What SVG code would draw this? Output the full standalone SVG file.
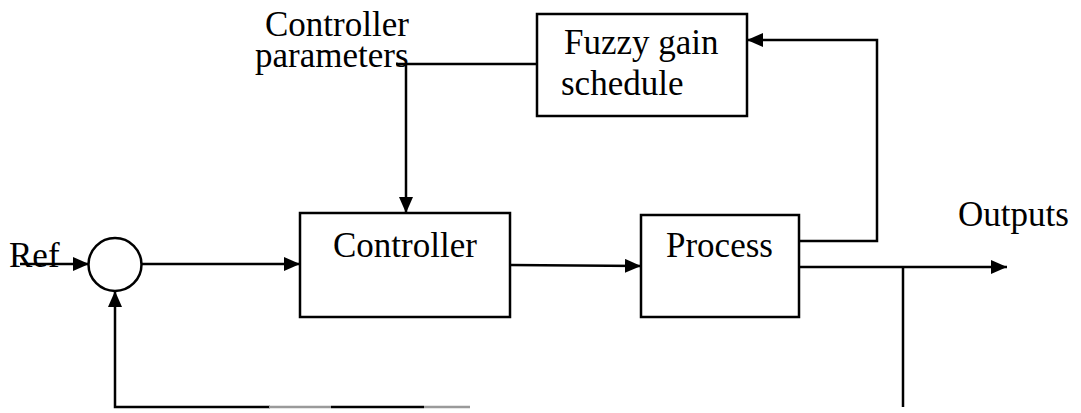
<svg xmlns="http://www.w3.org/2000/svg" width="1081" height="413" viewBox="0 0 1081 413">
  <style>
    .box { fill: #ffffff; stroke: #000000; stroke-width: 2.5; }
    .wire { fill: none; stroke: #000000; stroke-width: 2.5; }
    .faint { fill: none; stroke: #9a9a9a; stroke-width: 2.5; }
    .lbl { font-family: "Liberation Serif", "Times New Roman", serif; font-size: 35px; fill: #000000; }
  </style>
  <defs>
    <marker id="arrow" viewBox="0 0 16 14" refX="16" refY="7" markerWidth="16" markerHeight="14" markerUnits="userSpaceOnUse" orient="auto">
      <path d="M0,0 L16,7 L0,14 Z" fill="#000000"/>
    </marker>
  </defs>
  <rect width="1081" height="413" fill="#ffffff"/>

  <!-- connectors -->
  <g id="connectors">
    <!-- reference into summing junction -->
    <line class="wire" x1="20" y1="264" x2="89" y2="264" marker-end="url(#arrow)"/>
    <!-- error to controller -->
    <line class="wire" x1="141" y1="264" x2="300" y2="264" marker-end="url(#arrow)"/>
    <!-- controller to process -->
    <line class="wire" x1="510" y1="265" x2="641" y2="266" marker-end="url(#arrow)"/>
    <!-- process to outputs -->
    <line class="wire" x1="799" y1="267" x2="1007" y2="267" marker-end="url(#arrow)"/>
    <!-- process output to fuzzy gain schedule -->
    <polyline class="wire" points="799,241 877,241 877,40 747,40" marker-end="url(#arrow)"/>
    <!-- gain schedule to controller parameters -->
    <line class="wire" x1="396" y1="64" x2="537" y2="64"/>
    <polyline class="wire" points="406,64 406,213" marker-end="url(#arrow)"/>
    <!-- output tap for feedback -->
    <line class="wire" x1="903" y1="267" x2="903" y2="407"/>
    <!-- feedback path back into summing junction -->
    <polyline class="wire" points="270,407 115,407 115,291" marker-end="url(#arrow)"/>
    <line class="faint" x1="269" y1="407" x2="331" y2="407"/>
    <line class="wire" x1="331" y1="407" x2="424" y2="407"/>
    <line class="faint" x1="424" y1="407" x2="470" y2="407"/>
  </g>

  <g id="sum">
    <circle cx="115" cy="264.5" r="26.5" class="box"/>
  </g>

  <g id="ref">
    <text class="lbl" x="9" y="267">Ref</text>
  </g>

  <g id="controller">
    <rect class="box" x="300" y="213" width="210" height="104"/>
    <text class="lbl" x="333" y="257">Controller</text>
  </g>

  <g id="process">
    <rect class="box" x="641" y="215" width="158" height="102"/>
    <text class="lbl" x="666" y="257">Process</text>
  </g>

  <g id="fuzzy">
    <rect class="box" x="537" y="14" width="210" height="102"/>
    <text class="lbl" x="564" y="54">Fuzzy gain</text>
    <text class="lbl" x="561" y="95">schedule</text>
  </g>

  <g id="params">
    <text class="lbl" x="265" y="36">Controller</text>
    <text class="lbl" x="255" y="67">parameters</text>
  </g>

  <g id="outputs">
    <text class="lbl" x="958" y="226">Outputs</text>
  </g>
</svg>
